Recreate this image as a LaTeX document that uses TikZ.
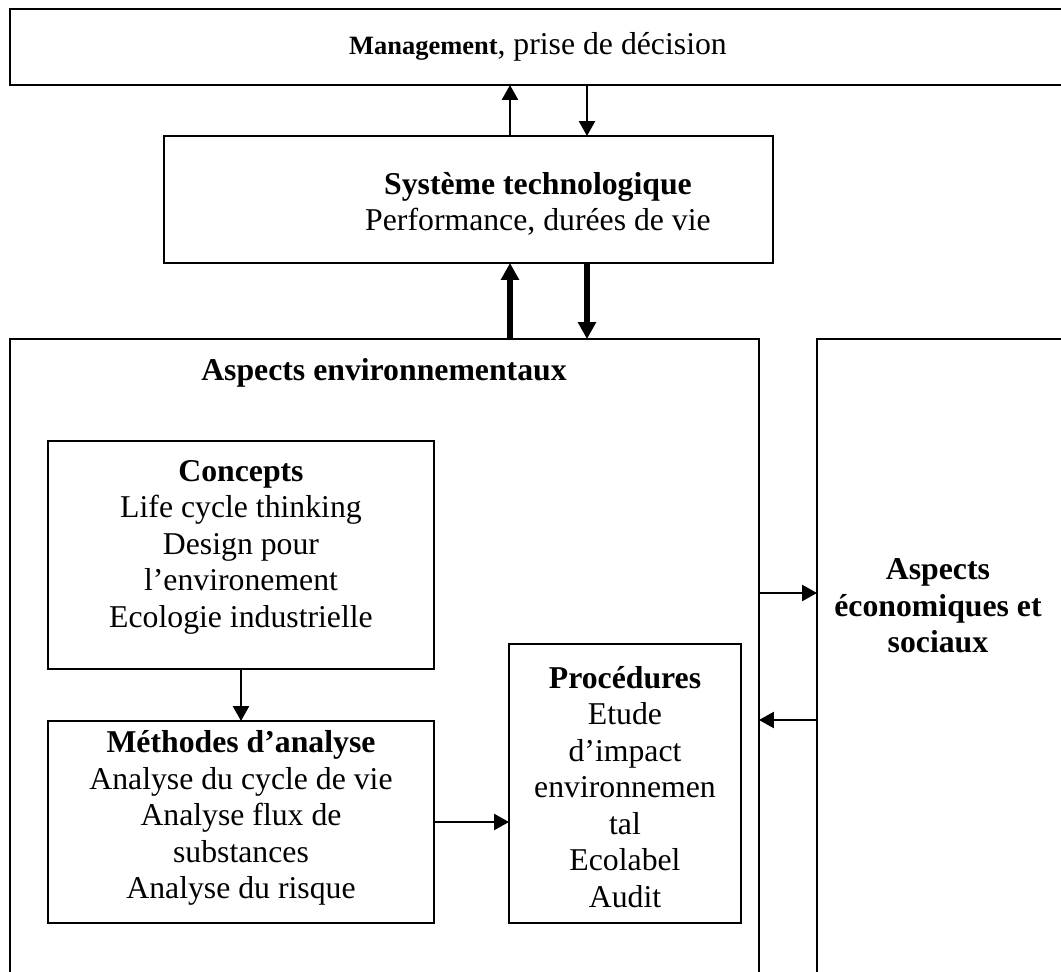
\documentclass[tikz,border=0pt]{standalone}
\usepackage{fontspec}
\setmainfont{Liberation Serif}
\usetikzlibrary{arrows.meta,fit}
\begin{document}
\begin{tikzpicture}[x=0.378pt,y=-0.378pt,
  box/.style={draw,line width=0.8pt,inner sep=0pt,outer sep=0pt,rectangle},
  txt/.style={align=center,inner sep=0pt,font=\fontsize{12}{13.8}\selectfont},
  thinarrow/.style={line width=0.9pt,-{Triangle[length=5.6pt,width=6pt]}},
  thickarrow/.style={line width=2.2pt,-{Triangle[length=6.4pt,width=6.6pt]}}]
\useasboundingbox (0,0) rectangle (1061,972);
\clip (0,0) rectangle (1061,972);

% frames
\node[box,fit={(10,9) (1075,85)}] (mgmt) {};
\node[box,fit={(164,136) (773,263)}] (sys) {};
\node[box,fit={(10,339) (759,995)}] (env) {};
\node[box,fit={(817,339) (1075,995)}] (eco) {};
\node[box,fit={(48,441) (434,669)}] (conc) {};
\node[box,fit={(48,721) (434,923)}] (meth) {};
\node[box,fit={(509,644) (741,923)}] (proc) {};

% labels
\node[txt] (mgmtT) at (538,47) {{\fontsize{10}{12}\selectfont\bfseries Management}, prise de décision};
\node[txt] (sysT) at (538,204) {\textbf{Système technologique}\\Performance, durées de vie};
\node[txt] (envT) at (384,373) {\textbf{Aspects environnementaux}};
\node[txt] (ecoT) at (938,606) {\textbf{Aspects}\\\textbf{économiques et}\\\textbf{sociaux}};
\node[txt] (concT) at (241,547) {\textbf{Concepts}\\Life cycle thinking\\Design pour\\l’environement\\Ecologie industrielle};
\node[txt] (methT) at (241,818) {\textbf{Méthodes d’analyse}\\Analyse du cycle de vie\\Analyse flux de\\substances\\Analyse du risque};
\node[txt] (procT) at (625,787) {\textbf{Procédures}\\Etude\\d’impact\\environnemen\\tal\\Ecolabel\\Audit};

% guide positions for the connectors
\coordinate (xl) at (510,0);
\coordinate (xr) at (587,0);
\coordinate (ya) at (0,593);
\coordinate (yb) at (0,720);
\coordinate (yc) at (0,822);

% connectors
\draw[thinarrow] (sys.north -| xl) -- (mgmt.south -| xl);
\draw[thinarrow] (mgmt.south -| xr) -- (sys.north -| xr);
\draw[thickarrow] (env.north -| xl) -- (sys.south -| xl);
\draw[thickarrow] (sys.south -| xr) -- (env.north -| xr);
\draw[thinarrow] (env.east |- ya) -- (eco.west |- ya);
\draw[thinarrow] (eco.west |- yb) -- (env.east |- yb);
\draw[thinarrow] (conc.south) -- (meth.north);
\draw[thinarrow] (meth.east |- yc) -- (proc.west |- yc);
\end{tikzpicture}
\end{document}
